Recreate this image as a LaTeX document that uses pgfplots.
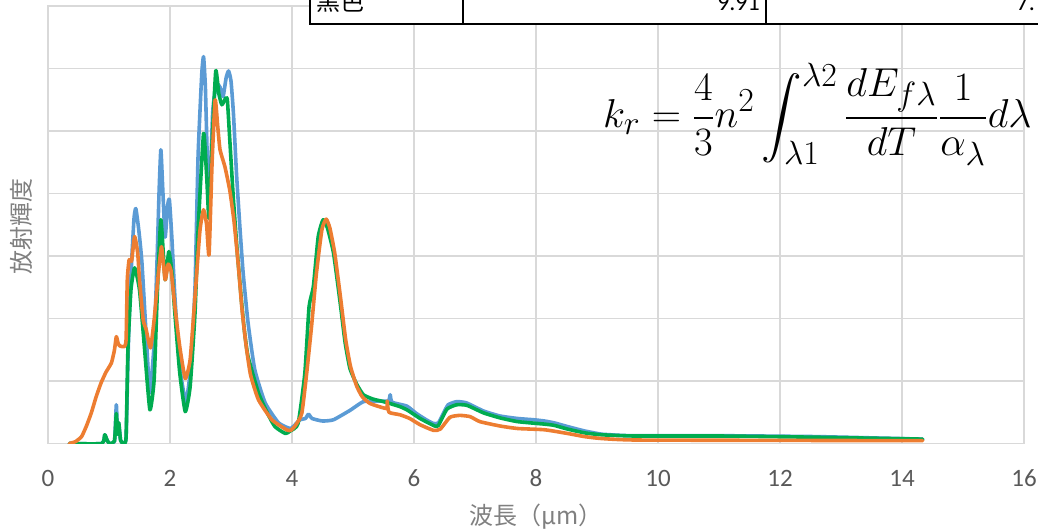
\documentclass[border=0pt]{standalone}
\usepackage{amsmath}
\usepackage[no-math]{fontspec}
\setmainfont{Carlito}
\newfontfamily\jp{Noto Sans CJK JP}
\usepackage{pgfplots}
\pgfplotsset{compat=1.18}
\definecolor{cblue}{HTML}{5B9BD5}
\definecolor{corange}{HTML}{ED7D31}
\definecolor{cgreen}{HTML}{00AC50}
\definecolor{gridc}{HTML}{D9D9D9}
\definecolor{tickc}{HTML}{595959}
\definecolor{titc}{HTML}{808080}
\begin{document}
\begin{tikzpicture}[x=1pt,y=1pt]
\begin{axis}[
  at={(48pt,87.5pt)}, anchor=south west,
  scale only axis, width=976pt, height=437.5pt,
  xmin=0, xmax=16, ymin=0, ymax=7,
  xtick={0,2,...,16}, ytick={0,1,...,7}, yticklabels={},
  grid=major, major grid style={draw=gridc, line width=1.8pt},
  axis line style={draw=gridc, line width=1.8pt},
  major tick length=0pt, tick style={draw=none},
  /pgf/number format/assume math mode=true,
  xticklabel style={font=\fontsize{25}{25}\selectfont, text=tickc, anchor=base, yshift=-42.5pt},
  every axis plot/.append style={line width=3.6pt, line join=round, line cap=round, no markers, smooth, tension=0.3},
]
\addplot[cblue] coordinates {(0.35,0) (0.88,0) (0.93,0.14) (0.97,0.05) (1.01,0) (1.09,0.04) (1.12,0.62) (1.14,0.15) (1.16,0.33) (1.19,0.05) (1.24,0) (1.28,0.1) (1.31,1.3) (1.33,1.98) (1.37,2.89) (1.41,3.6) (1.44,3.76) (1.49,3.4) (1.54,2.89) (1.62,1.55) (1.67,0.81) (1.74,1.6) (1.79,3.0) (1.82,4.0) (1.85,4.70) (1.88,4.1) (1.92,3.3) (1.96,3.8) (1.99,3.90) (2.03,3.3) (2.08,2.35) (2.16,1.23) (2.26,0.67) (2.34,1.23) (2.41,2.5) (2.46,4.59) (2.52,5.9) (2.55,6.19) (2.58,5.7) (2.61,4.6) (2.64,3.7) (2.70,5.3) (2.76,5.75) (2.82,5.7) (2.87,5.55) (2.92,5.85) (2.96,5.96) (3.00,5.8) (3.04,5.28) (3.09,4.32) (3.15,3.4) (3.20,2.72) (3.28,1.93) (3.39,1.18) (3.56,0.65) (3.78,0.33) (3.97,0.24) (4.05,0.30) (4.13,0.38) (4.22,0.40) (4.27,0.47) (4.33,0.40) (4.50,0.36) (4.68,0.38) (4.95,0.53) (5.17,0.67) (5.39,0.68) (5.58,0.68) (5.61,0.78) (5.64,0.66) (5.88,0.60) (6.04,0.48) (6.20,0.38) (6.32,0.32) (6.40,0.33) (6.48,0.48) (6.56,0.62) (6.70,0.67) (6.86,0.65) (7.14,0.52) (7.41,0.44) (7.70,0.40) (7.96,0.38) (8.14,0.36) (8.30,0.33) (8.52,0.27) (8.80,0.20) (9.07,0.15) (9.40,0.13) (9.62,0.125) (11,0.125) (12.62,0.11) (14.34,0.07)};
\addplot[cgreen] coordinates {(0.35,0) (0.88,0) (0.93,0.14) (0.97,0.05) (1.01,0) (1.09,0.04) (1.12,0.48) (1.14,0.15) (1.16,0.33) (1.19,0.05) (1.24,0) (1.28,0.1) (1.31,1.5) (1.36,2.46) (1.42,2.81) (1.50,2.46) (1.58,1.55) (1.67,0.54) (1.74,1.02) (1.79,2.35) (1.85,3.58) (1.92,2.62) (1.98,3.07) (2.03,2.75) (2.08,2.08) (2.16,1.13) (2.25,0.51) (2.33,0.91) (2.41,2.09) (2.46,3.4) (2.55,4.96) (2.60,4.3) (2.64,3.6) (2.69,4.8) (2.75,5.96) (2.80,5.6) (2.85,5.42) (2.91,5.52) (2.94,5.50) (2.98,4.86) (3.04,3.9) (3.10,3.1) (3.17,2.3) (3.22,1.8) (3.28,1.39) (3.45,0.81) (3.60,0.48) (3.72,0.27) (3.89,0.16) (3.97,0.2) (4.10,0.32) (4.21,1.12) (4.28,2.19) (4.35,2.51) (4.43,3.31) (4.51,3.58) (4.58,3.45) (4.68,3.05) (4.79,2.25) (4.87,1.62) (4.95,1.2) (5.06,0.95) (5.17,0.78) (5.33,0.71) (5.50,0.67) (5.77,0.59) (5.90,0.53) (6.10,0.40) (6.34,0.28) (6.40,0.29) (6.54,0.55) (6.70,0.62) (6.87,0.61) (7.14,0.49) (7.41,0.41) (7.70,0.35) (8.14,0.31) (8.30,0.29) (8.52,0.23) (8.80,0.17) (9.07,0.14) (9.62,0.12) (11,0.12) (12.62,0.10) (14.34,0.07)};
\addplot[corange] coordinates {(0.35,0) (0.45,0.03) (0.55,0.11) (0.63,0.28) (0.71,0.49) (0.79,0.75) (0.87,0.97) (0.95,1.14) (1.04,1.29) (1.09,1.50) (1.12,1.71) (1.15,1.60) (1.18,1.56) (1.25,1.55) (1.28,1.66) (1.30,2.62) (1.33,2.94) (1.37,2.92) (1.42,3.31) (1.47,3.05) (1.50,2.62) (1.56,1.98) (1.61,1.82) (1.68,1.53) (1.74,1.98) (1.80,2.62) (1.86,3.15) (1.92,2.62) (1.97,2.87) (2.02,2.75) (2.08,2.19) (2.16,1.55) (2.25,1.04) (2.33,1.34) (2.41,2.35) (2.49,3.4) (2.55,3.74) (2.60,3.5) (2.64,3.02) (2.69,4.5) (2.74,5.5) (2.78,5.1) (2.82,4.70) (2.90,4.43) (2.98,4.05) (3.05,3.55) (3.12,2.85) (3.18,2.15) (3.25,1.55) (3.32,1.10) (3.45,0.70) (3.67,0.38) (3.91,0.22) (3.98,0.21) (4.05,0.28) (4.16,0.48) (4.24,1.12) (4.32,1.87) (4.40,2.72) (4.49,3.42) (4.56,3.59) (4.62,3.45) (4.70,3.05) (4.80,2.30) (4.88,1.66) (4.96,1.23) (5.06,0.92) (5.15,0.75) (5.28,0.64) (5.55,0.56) (5.56,0.68) (5.59,0.50) (5.77,0.46) (5.93,0.40) (6.10,0.30) (6.32,0.21) (6.43,0.23) (6.59,0.42) (6.75,0.45) (6.92,0.43) (7.08,0.35) (7.41,0.28) (7.70,0.24) (8.14,0.22) (8.52,0.16) (8.80,0.11) (9.07,0.08) (9.62,0.056) (12,0.05) (14.34,0.045)};
\end{axis}
% axis titles
\node[anchor=base, inner sep=0, text=titc, font=\jp\fontsize{24}{24}\selectfont] at (536pt,6.5pt) {波長（μm）};
\node[anchor=base, inner sep=0, rotate=90, text=titc, font=\jp\fontsize{24}{24}\selectfont] at (31pt,304.5pt) {放射輝度};
% formula
\node[anchor=base west, inner sep=0] at (603pt,403pt) {\scalebox{1.63}[1.62]{\fontsize{24.88}{30}\selectfont $\displaystyle k_r=\frac{4}{3}n^2\int_{\lambda1}^{\lambda2}\frac{dE_{f\lambda}}{dT}\frac{1}{\alpha_\lambda}d\lambda$}};
% table fragment
\fill[white] (310pt,507pt) rectangle (1045pt,540pt);
\draw[line width=2pt] (310pt,540pt) -- (310pt,507pt) -- (1045pt,507pt);
\draw[line width=2pt] (463pt,540pt) -- (463pt,507pt);
\draw[line width=2pt] (766pt,540pt) -- (766pt,507pt);
\node[anchor=base west, inner sep=0, font=\jp\fontsize{24}{24}\selectfont] at (316pt,520.5pt) {黒色};
\node[anchor=base east, inner sep=0, font=\fontsize{24}{24}\selectfont] at (760pt,520.5pt) {9.91};
\node[anchor=base east, inner sep=0, font=\fontsize{24}{24}\selectfont] at (1035pt,520.5pt) {7.};
\pgfresetboundingbox
\path[use as bounding box] (0pt,0pt) rectangle (1038pt,531pt);
\end{tikzpicture}
\end{document}
